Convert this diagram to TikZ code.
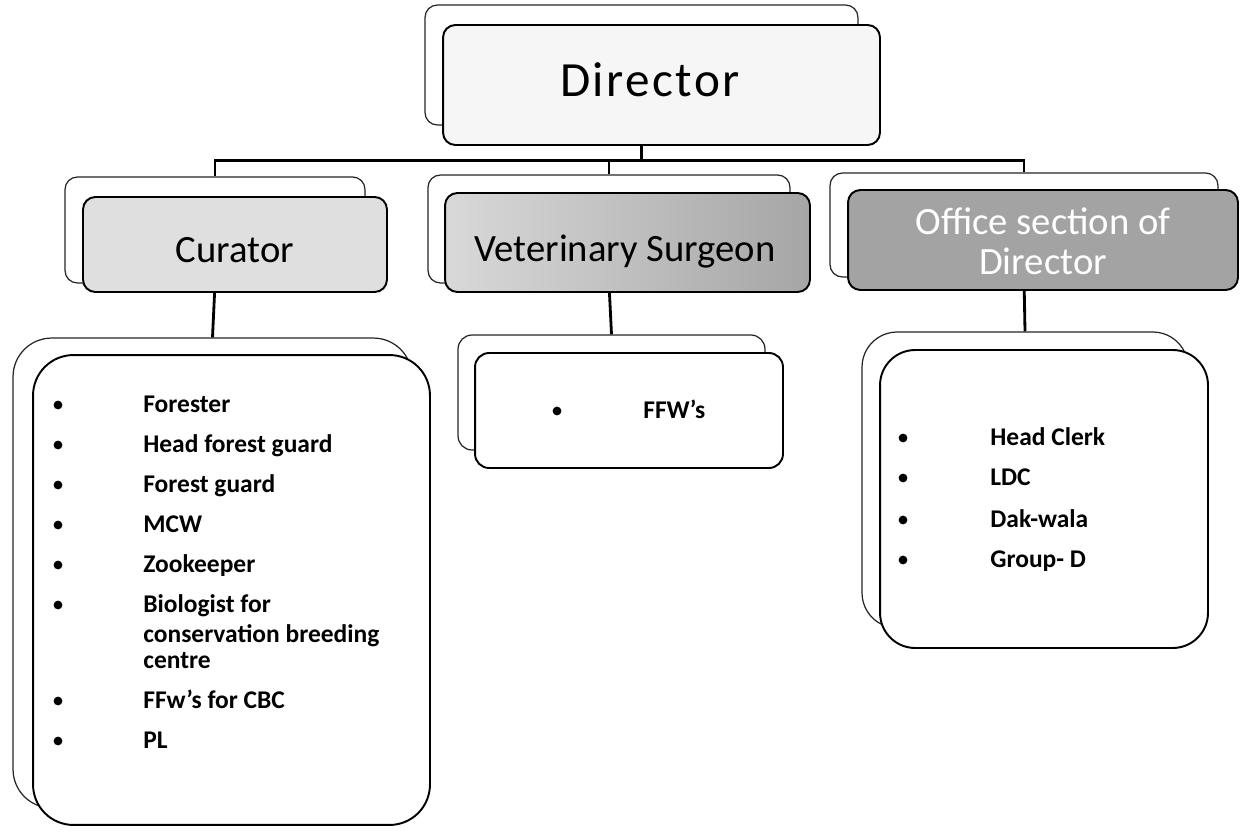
\documentclass[tikz,border=0pt]{standalone}
\usepackage{fontspec}
\setmainfont{Carlito}
\newfontfamily\dirfont[LetterSpace=5]{Carlito}
\begin{document}
\begin{tikzpicture}[x=0.02cm,y=-0.02cm,
  shadowbox/.style={draw=black!85, line width=0.7pt, fill=white, inner sep=0},
  frontbox/.style={draw=black, line width=1.1pt, inner sep=0},
  link/.style={draw=black, line width=1.6pt},
  item/.style={anchor=base west, inner sep=0, font=\fontsize{14.5}{17}\selectfont\bfseries},
  dot/.style={circle, fill=black, inner sep=0, minimum size=5pt},
  title/.style={anchor=base, inner sep=0, font=\fontsize{22}{26}\selectfont}]
\useasboundingbox (0,0) rectangle (1250,834);

% shadow boxes
\node[shadowbox, rounded corners=7pt, minimum width=8.66cm, minimum height=2.4cm] (dirS) at (641.5,65) {};
\node[shadowbox, rounded corners=7pt, minimum width=6.0cm, minimum height=2.12cm] (curS) at (215,230) {};
\node[shadowbox, rounded corners=7pt, minimum width=7.24cm, minimum height=2.16cm] (vetS) at (609,229) {};
\node[shadowbox, rounded corners=7pt, minimum width=7.76cm, minimum height=2.08cm] (offS) at (1024,225) {};
\node[shadowbox, rounded corners=22pt, minimum width=7.98cm, minimum height=9.4cm] (curLS) at (212.5,573) {};
\node[shadowbox, rounded corners=8pt, minimum width=6.14cm, minimum height=2.3cm] (vetLS) at (611.5,392.5) {};
\node[shadowbox, rounded corners=20pt, minimum width=6.52cm, minimum height=5.92cm] (offLS) at (1025,480) {};

% connectors
\draw[link] (dirS.south) -- ++(0,35) coordinate (bus);
\draw[link] (curS.north) |- (bus) -| (offS.north);
\draw[link] (vetS.north) -- (vetS.north |- bus);
\draw[link] (curS.south) -- (curLS.north);
\draw[link] (vetS.south) -- (vetLS.north);
\draw[link] (offS.south) -- (offLS.north);

% front boxes
\node[frontbox, rounded corners=7pt, fill=gray!7, minimum width=8.74cm, minimum height=2.4cm] (dir) at (661.5,85) {};
\node[frontbox, rounded corners=7pt, fill=gray!25, minimum width=6.08cm, minimum height=1.9cm] (cur) at (235,244.5) {};
\node[frontbox, rounded corners=7pt, left color=gray!30, right color=gray!70, minimum width=7.3cm, minimum height=1.98cm] (vet) at (627.5,242.5) {};
\node[frontbox, rounded corners=7pt, fill=gray!72, minimum width=7.8cm, minimum height=2.0cm] (off) at (1043,240) {};
\node[frontbox, rounded corners=23pt, fill=white, minimum width=7.94cm, minimum height=9.4cm] (curL) at (231.5,590) {};
\node[frontbox, rounded corners=8pt, fill=white, minimum width=6.16cm, minimum height=2.3cm] (vetL) at (629,410.5) {};
\node[frontbox, rounded corners=20pt, fill=white, minimum width=6.56cm, minimum height=5.96cm] (offL) at (1044,499) {};

% titles
\node[anchor=base, inner sep=0, font=\dirfont\fontsize{28}{32}\selectfont] (dirT) at (650,97) {Director};
\node[title] (curT) at (235,263) {Curator};
\node[title] (vetT) at (625,262) {Veterinary Surgeon};
\node[inner sep=0, align=center, text=white, font=\fontsize{22}{22.8}\selectfont] (offT) at (1043,241) {Office section of\\Director};

% curator list
\foreach \yy/\txt [count=\i] in {412/Forester,452/Head forest guard,492/Forest guard,532/MCW,572/Zookeeper,612/Biologist for,708/FFw's for CBC,748/PL}{
  \node[dot] (cb\i) at (58,\yy-7) {};
  \node[item] (ct\i) at (143,\yy) {\txt};
}
\node[item] (ct9) at (143,642) {conservation breeding};
\node[item] (ct10) at (143,668) {centre};

% vet list
\node[dot] (vb1) at (557,411) {};
\node[item] (vt1) at (643,418) {FFW's};

% office list
\foreach \yy/\txt [count=\i] in {445/Head Clerk,485/LDC,527/Dak-wala,567/Group- D}{
  \node[dot] (ob\i) at (903,\yy-7) {};
  \node[item] (ot\i) at (990,\yy) {\txt};
}
\end{tikzpicture}
\end{document}
